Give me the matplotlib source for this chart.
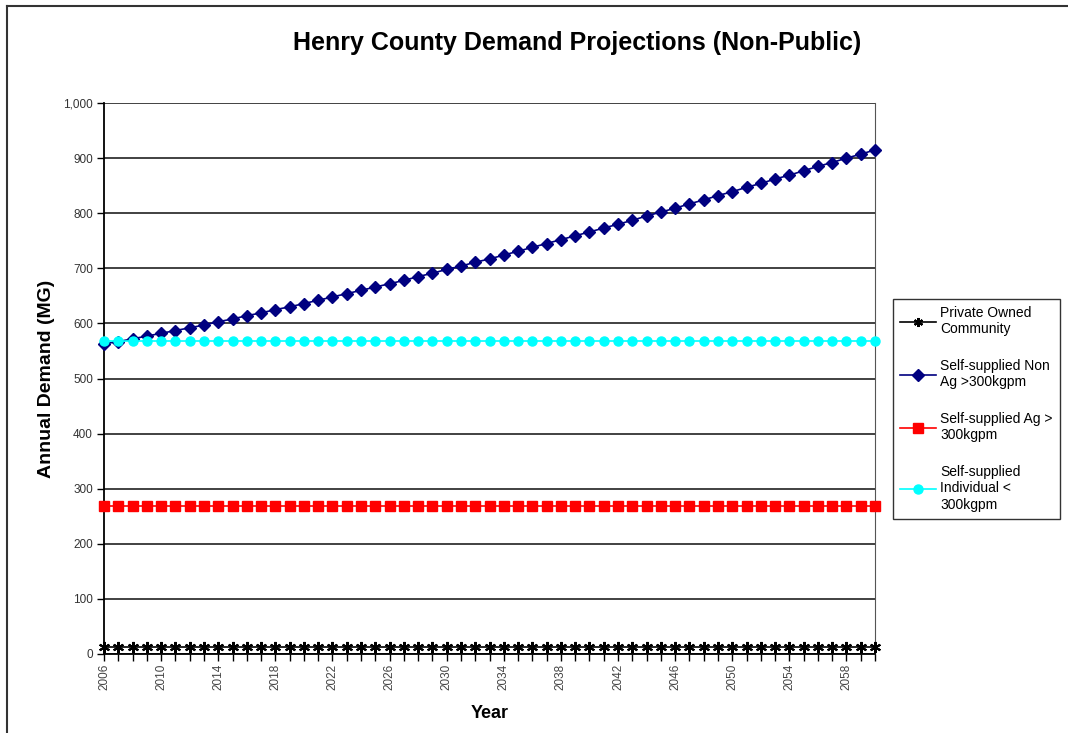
import matplotlib
matplotlib.use("Agg")
import matplotlib.pyplot as plt
from matplotlib.lines import Line2D
import numpy as np

plt.rcParams['font.family'] = ['Liberation Sans', 'DejaVu Sans']

years = list(range(2006, 2061))
non_ag = [563, 567, 572, 577, 582, 587, 592, 597, 603, 608,
          614, 619, 625, 630, 636, 642, 648, 654, 660, 666,
          672, 678, 685, 691, 698, 704, 711, 717, 724, 731,
          738, 745, 752, 759, 766, 773, 780, 787, 795, 802,
          809, 817, 824, 832, 839, 847, 854, 862, 869, 877,
          885, 892, 900, 907, 915]
private_owned = [13] * len(years)
ag = [269] * len(years)
individual = [568] * len(years)

labels = ["Private Owned\nCommunity", "Self-supplied Non\nAg >300kgpm",
          "Self-supplied Ag >\n300kgpm", "Self-supplied\nIndividual <\n300kgpm"]

fig = plt.figure(figsize=(10.68, 7.33), dpi=100)
ax = fig.add_axes([104/1068, 1-654/733, (875-104)/1068, (654-103)/733])

x = np.arange(len(years))
ax.plot(x, private_owned, color='black', marker=(6, 2, 0), markersize=8, mew=1.5, lw=1.2, label=labels[0], zorder=5, clip_on=False)
ax.plot(x, non_ag, color='#000080', marker='D', markersize=6, lw=1.2, label=labels[1], zorder=5, clip_on=False)
ax.plot(x, ag, color='#FF0000', marker='s', markersize=6.5, lw=1.2, label=labels[2], zorder=5, clip_on=False)
ax.plot(x, individual, color='#00FFFF', marker='o', markersize=6.5, lw=1.2, label=labels[3], zorder=5, clip_on=False)

ax.set_xlim(0, len(years) - 1)
ax.set_ylim(0, 1000)
ax.set_yticks(range(0, 1001, 100))
ax.set_yticklabels([f"{v:,}" for v in range(0, 1001, 100)], fontsize=8.5, color='#333333')
ax.yaxis.grid(True, color='#333333', lw=1.3)
ax.set_axisbelow(True)

ax.set_xticks(x)
ax.set_xticklabels([str(y) if (y - 2006) % 4 == 0 else '' for y in years],
                   rotation=90, fontsize=8.5, color='#444444')
ax.tick_params(axis='x', length=5, width=1, color='black', pad=2)
ax.tick_params(axis='y', length=5, width=1, color='black', pad=3)

ax.spines['top'].set_visible(False)
ax.spines['right'].set_color('#555555')
ax.spines['left'].set_color('black')
ax.spines['bottom'].set_color('black')
ax.spines['left'].set_linewidth(1.3)
ax.spines['bottom'].set_linewidth(1.3)

ax.set_xlabel("Year", fontsize=13, fontweight='bold', labelpad=11)
ax.set_ylabel("Annual Demand (MG)", fontsize=14, fontweight='bold', labelpad=6)

fig.text(577/1068, 1-43/733, "Henry County Demand Projections (Non-Public)",
         ha='center', va='center', fontsize=18, fontweight='bold')

leg = fig.legend(loc='upper left', bbox_to_anchor=(893/1068, 1-299/733),
                 fontsize=10, frameon=True, fancybox=False, edgecolor='black',
                 handlelength=2.6, labelspacing=1.65, borderpad=0.5, handletextpad=0.3,
                 borderaxespad=0)
leg.get_frame().set_linewidth(1.0)
for h in leg.legend_handles:
    h.set_markersize(6.5)

# outer border of the chart area
fig.add_artist(Line2D([7/1068, 7/1068], [0, 1-6/733], transform=fig.transFigure, color='#333333', lw=1.5))
fig.add_artist(Line2D([7/1068, 1], [1-6/733, 1-6/733], transform=fig.transFigure, color='#333333', lw=1.5))

fig.savefig("out.png", dpi=100)
